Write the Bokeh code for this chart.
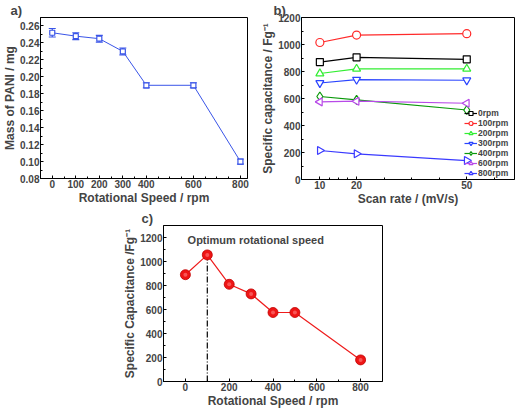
import math
from bokeh.plotting import figure
from bokeh.layouts import column, row
from bokeh.models import (FixedTicker, Whisker, ColumnDataSource, Label, Spacer,
                          Range1d, TeeHead, NumeralTickFormatter)
from bokeh.embed import file_html
from bokeh.resources import INLINE

FONT = "Liberation Sans"

# ---------------- data ----------------
# Panel a
a_speed = [0, 100, 200, 300, 400, 600, 800]
a_mass = [0.252, 0.248, 0.245, 0.230, 0.190, 0.190, 0.100]
a_err = [0.005, 0.004, 0.004, 0.004, 0.003, 0.003, 0.003]
a_xticks = [0, 100, 200, 300, 400, 600, 800]
a_yticks = [0.08, 0.10, 0.12, 0.14, 0.16, 0.18, 0.20, 0.22, 0.24, 0.26]

# Panel b
b_rate = [10, 20, 50]
b_0rpm = [870, 905, 890]
b_100rpm = [1015, 1070, 1080]
b_200rpm = [785, 820, 820]
b_300rpm = [715, 740, 735]
b_400rpm = [615, 590, 515]
b_600rpm = [575, 580, 565]
b_800rpm = [215, 190, 140]
b_labels = ["0rpm", "100rpm", "200rpm", "300rpm", "400rpm", "600rpm", "800rpm"]
b_xticks = [10, 20, 50]
b_yticks = [0, 200, 400, 600, 800, 1000, 1200]

# Panel c
c_speed = [0, 100, 200, 300, 400, 500, 800]
c_cap = [890, 1055, 810, 730, 575, 575, 180]
c_opt_speed = 100
c_opt_cap = 1055
c_xticks = [0, 200, 400, 600, 800]
c_yticks = [0, 200, 400, 600, 800, 1000, 1200]


def style(p, title_text, title_offset):
    p.outline_line_color = "black"
    p.outline_line_width = 1
    p.grid.visible = False
    p.background_fill_color = "white"
    p.border_fill_color = "white"
    p.title.text = title_text
    p.title.text_font = FONT
    p.title.text_font_size = "13px"
    p.title.text_font_style = "bold"
    p.title.align = "left"
    p.title.offset = title_offset
    p.title.standoff = 0
    for ax in p.axis:
        ax.axis_line_color = "black"
        ax.major_tick_line_color = "black"
        ax.minor_tick_line_color = "black"
        ax.major_tick_in = 3
        ax.major_tick_out = 0
        ax.minor_tick_in = 2
        ax.minor_tick_out = 0
        ax.major_label_text_font = FONT
        ax.major_label_text_font_style = "bold"
        ax.major_label_text_font_size = "10px"
        ax.major_label_standoff = 1
        ax.axis_label_text_font = FONT
        ax.axis_label_text_font_style = "bold"
        ax.axis_label_text_font_size = "12px"
        ax.axis_label_standoff = 0


# ---------------- panel a ----------------
pa = figure(frame_width=207, frame_height=161, output_backend="svg", toolbar_location=None,
            x_range=Range1d(-50, 830), y_range=Range1d(0.08, 0.27),
            min_border_left=8, min_border_right=11, min_border_top=16, min_border_bottom=18)
style(pa, "a)", -30)
pa.xaxis.axis_label = "Rotational Speed / rpm"
pa.yaxis.axis_label = "Mass of PANI / mg"
pa.xaxis.ticker = FixedTicker(ticks=a_xticks, minor_ticks=list(range(-50, 850, 50)))
pa.yaxis.ticker = FixedTicker(ticks=a_yticks, minor_ticks=[0.09 + 0.02 * i for i in range(10)])
pa.yaxis.formatter = NumeralTickFormatter(format="0.00")

src_a = ColumnDataSource(dict(x=a_speed, y=a_mass,
                              lo=[m - e for m, e in zip(a_mass, a_err)],
                              hi=[m + e for m, e in zip(a_mass, a_err)]))
blue_a = "#3a55e8"
pa.line("x", "y", source=src_a, line_color=blue_a, line_width=1)
pa.add_layout(Whisker(source=src_a, base="x", lower="lo", upper="hi", line_color=blue_a,
                      line_width=1.2,
                      upper_head=TeeHead(size=7, line_color=blue_a, line_width=1.2),
                      lower_head=TeeHead(size=7, line_color=blue_a, line_width=1.2)))
pa.scatter("x", "y", source=src_a, marker="square", size=5, fill_color="white",
           line_color=blue_a, line_width=1.2)

# ---------------- panel b ----------------
pb = figure(frame_width=213, frame_height=162, output_backend="svg", toolbar_location=None,
            x_range=Range1d(5, 63), y_range=Range1d(0, 1200),
            min_border_left=8, min_border_right=6, min_border_top=16, min_border_bottom=18)
style(pb, "b)", -28)
pb.xaxis.axis_label = "Scan rate / (mV/s)"
pb.yaxis.axis_label = "Specific capacitance / Fg\u207b\u00b9"
pb.xaxis.ticker = FixedTicker(ticks=b_xticks, minor_ticks=[12.5, 15, 17.5, 27.5, 35, 42.5, 57.5])
pb.yaxis.ticker = FixedTicker(ticks=b_yticks, minor_ticks=list(range(100, 1200, 200)))

b_series = [b_0rpm, b_100rpm, b_200rpm, b_300rpm, b_400rpm, b_600rpm, b_800rpm]
b_colors = ["black", "#ff2a2a", "#33ee33", "#2a44ff", "#0a990a", "#b84ae8", "#3a3aff"]
b_markers = ["square", "circle", "triangle", "inverted_triangle", "diamond", "triangle", "triangle"]
b_angles = [0, 0, 0, 0, 0, math.pi / 2, -math.pi / 2]
b_sizes = [7, 8, 8, 8, 9, 8, 8]
for ys, col, mk, ang, sz, lab in zip(b_series, b_colors, b_markers, b_angles, b_sizes, b_labels):
    pb.line(b_rate, ys, line_color=col, line_width=1.2, legend_label=lab)
    pb.scatter(b_rate, ys, marker=mk, angle=ang, size=sz, fill_color="white",
               line_color=col, line_width=1.2, legend_label=lab)
lg = pb.legend[0]
lg.location = (163, 1)
lg.background_fill_alpha = 0
lg.border_line_alpha = 0
lg.label_text_font = FONT
lg.label_text_font_style = "bold"
lg.label_text_font_size = "8.5px"
lg.label_standoff = 1
lg.glyph_width = 13
lg.glyph_height = 10
lg.label_height = 10
lg.spacing = 0
lg.padding = 0
lg.margin = 0

# ---------------- panel c ----------------
pc = figure(frame_width=219, frame_height=156, output_backend="svg", toolbar_location=None,
            x_range=Range1d(-100, 900), y_range=Range1d(0, 1300),
            min_border_left=8, min_border_right=10, min_border_top=15, min_border_bottom=18)
style(pc, "c)", -22)
pc.xaxis.axis_label = "Rotational Speed / rpm"
pc.yaxis.axis_label = "Specific Capacitance /Fg\u207b\u00b9"
pc.xaxis.ticker = FixedTicker(ticks=c_xticks, minor_ticks=list(range(-100, 900, 100)))
pc.yaxis.ticker = FixedTicker(ticks=c_yticks, minor_ticks=list(range(100, 1300, 100)))

pc.segment(x0=[c_opt_speed], y0=[0], x1=[c_opt_speed], y1=[c_opt_cap], line_color="black",
           line_width=1.2, line_dash="6 2 1 2")
pc.line(c_speed, c_cap, line_color="#ee1c1c", line_width=1.2)
pc.scatter(c_speed, c_cap, marker="circle", size=10, fill_color="#ee1515", line_color="#c00000",
           line_width=0.8)
pc.scatter(c_speed, c_cap, marker="circle", size=4, fill_color="#ff8080", line_alpha=0,
           fill_alpha=0.6)
pc.add_layout(Label(x=10, y=1180, text="Optimum rotational speed", text_font=FONT,
                    text_font_style="bold", text_font_size="11px", text_baseline="middle"))

top = row(pa, pb)
bottom = row(Spacer(width=120, height=10), pc)
layout = column(top, bottom)

open("out.html", "w").write(file_html(layout, INLINE))
